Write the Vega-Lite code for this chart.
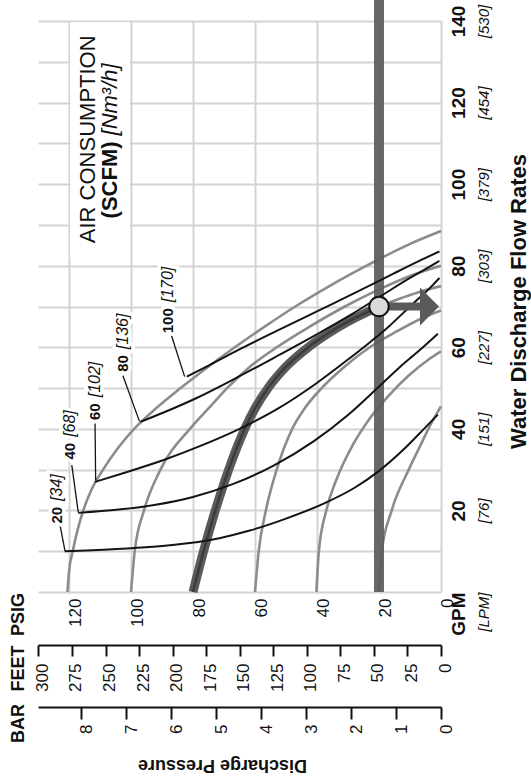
{
  "$schema": "https://vega.github.io/schema/vega-lite/v6.json",
  "width": 403,
  "height": 571,
  "autosize": {"type": "none"},
  "padding": {"left": 38, "top": 21, "right": 90, "bottom": 191},
  "background": "white",
  "config": {"view": {"stroke": null}, "font": "Liberation Sans"},
  "title": {"text": "Discharge Pressure", "orient": "bottom", "anchor": "middle", "frame": "group", "angle": 180, "baseline": "bottom", "offset": 14, "dx": 17, "fontSize": 18, "fontWeight": "bold", "font": "Liberation Sans", "color": "#111"},
  "datasets": {
    "air": [
      {"g":"p120","q":0,"p":120.5},{"g":"p120","q":5,"p":120},{"g":"p120","q":10,"p":118.8},{"g":"p120","q":15,"p":117.3},{"g":"p120","q":20,"p":115.4},{"g":"p120","q":25,"p":112.8},{"g":"p120","q":30,"p":109},{"g":"p120","q":35,"p":104.5},{"g":"p120","q":40,"p":99},{"g":"p120","q":45,"p":92},{"g":"p120","q":50,"p":84},{"g":"p120","q":55,"p":75.5},{"g":"p120","q":60,"p":66.5},{"g":"p120","q":65,"p":57},{"g":"p120","q":70,"p":47},{"g":"p120","q":75,"p":36},{"g":"p120","q":80,"p":24},{"g":"p120","q":85,"p":11},{"g":"p120","q":88.5,"p":0},
      {"g":"p100","q":0,"p":100},{"g":"p100","q":10,"p":98.8},{"g":"p100","q":20,"p":95.8},{"g":"p100","q":30,"p":90.5},{"g":"p100","q":40,"p":81},{"g":"p100","q":45,"p":75},{"g":"p100","q":50,"p":69},{"g":"p100","q":55,"p":62},{"g":"p100","q":60,"p":53},{"g":"p100","q":65,"p":42.5},{"g":"p100","q":70,"p":31},{"g":"p100","q":74,"p":20.5},{"g":"p100","q":77.5,"p":10},{"g":"p100","q":80,"p":0},
      {"g":"p80","q":0,"p":80},{"g":"p80","q":10,"p":76.6},{"g":"p80","q":20,"p":72.8},{"g":"p80","q":30,"p":68.5},{"g":"p80","q":40,"p":63.3},{"g":"p80","q":45,"p":60},{"g":"p80","q":50,"p":55.8},{"g":"p80","q":55,"p":50.3},{"g":"p80","q":60,"p":42.8},{"g":"p80","q":65,"p":33},{"g":"p80","q":70,"p":20},{"g":"p80","q":72,"p":13},{"g":"p80","q":73.7,"p":6.5},{"g":"p80","q":75,"p":0},
      {"g":"p60","q":0,"p":60},{"g":"p60","q":10,"p":58.8},{"g":"p60","q":20,"p":56.5},{"g":"p60","q":30,"p":53},{"g":"p60","q":40,"p":48},{"g":"p60","q":45,"p":44},{"g":"p60","q":50,"p":38.5},{"g":"p60","q":55,"p":31.5},{"g":"p60","q":60,"p":23},{"g":"p60","q":64,"p":14},{"g":"p60","q":67,"p":6.5},{"g":"p60","q":69,"p":0},
      {"g":"p40","q":0,"p":40.2},{"g":"p40","q":10,"p":39.4},{"g":"p40","q":20,"p":37},{"g":"p40","q":28,"p":33.5},{"g":"p40","q":36,"p":28.5},{"g":"p40","q":42,"p":23.5},{"g":"p40","q":48,"p":17},{"g":"p40","q":53,"p":10.5},{"g":"p40","q":57,"p":4},{"g":"p40","q":59,"p":0},
      {"g":"p20","q":0,"p":20},{"g":"p20","q":10,"p":19.1},{"g":"p20","q":20,"p":15.9},{"g":"p20","q":30,"p":10.4},{"g":"p20","q":36,"p":6.6},{"g":"p20","q":41.7,"p":2.9},{"g":"p20","q":45.5,"p":0}
    ],
    "scfm": [
      {"g":"s20","q":10,"p":121.4},{"g":"s20","q":10.5,"p":106},{"g":"s20","q":11.1,"p":93},{"g":"s20","q":12,"p":81},{"g":"s20","q":13.2,"p":71.5},{"g":"s20","q":15,"p":62},{"g":"s20","q":18,"p":50},{"g":"s20","q":21.8,"p":37.5},{"g":"s20","q":25.5,"p":28},{"g":"s20","q":29.4,"p":20.5},{"g":"s20","q":35,"p":12},{"g":"s20","q":40,"p":5.5},{"g":"s20","q":43.5,"p":1},
      {"g":"s40","q":19.4,"p":117},{"g":"s40","q":20.2,"p":104},{"g":"s40","q":21.4,"p":92},{"g":"s40","q":23.3,"p":80},{"g":"s40","q":26.5,"p":67},{"g":"s40","q":31,"p":54},{"g":"s40","q":37,"p":41},{"g":"s40","q":43.4,"p":30},{"g":"s40","q":50,"p":20.5},{"g":"s40","q":55,"p":13.5},{"g":"s40","q":60,"p":5.8},{"g":"s40","q":63.3,"p":1},
      {"g":"s60","q":27,"p":111.6},{"g":"s60","q":29.5,"p":101},{"g":"s60","q":32.5,"p":89},{"g":"s60","q":36,"p":77},{"g":"s60","q":40,"p":65},{"g":"s60","q":45,"p":52.5},{"g":"s60","q":51,"p":40.5},{"g":"s60","q":57,"p":30},{"g":"s60","q":61.5,"p":22.5},{"g":"s60","q":65,"p":17},{"g":"s60","q":70,"p":10},{"g":"s60","q":75,"p":3},{"g":"s60","q":77,"p":0.5},
      {"g":"s80","q":41.7,"p":97},{"g":"s80","q":44,"p":89.5},{"g":"s80","q":47.5,"p":79},{"g":"s80","q":52.5,"p":66},{"g":"s80","q":58,"p":52.5},{"g":"s80","q":63,"p":40.5},{"g":"s80","q":68,"p":29},{"g":"s80","q":73,"p":18.5},{"g":"s80","q":77,"p":10},{"g":"s80","q":80.5,"p":2},{"g":"s80","q":81.2,"p":0.5},
      {"g":"s100","q":52.8,"p":82},{"g":"s100","q":55.5,"p":75},{"g":"s100","q":59.3,"p":65.5},{"g":"s100","q":64,"p":53},{"g":"s100","q":69,"p":39.5},{"g":"s100","q":74,"p":26},{"g":"s100","q":78,"p":15.5},{"g":"s100","q":81,"p":7.5},{"g":"s100","q":83.5,"p":0.5}
    ],
    "leaders": [
      {"g":"l20","q":16.4,"p":122.9},{"g":"l20","q":10.1,"p":121.3},
      {"g":"l40","q":31.1,"p":119.1},{"g":"l40","q":19.5,"p":117},
      {"g":"l60","q":41.3,"p":111.6},{"g":"l60","q":27.4,"p":111.4},
      {"g":"l80","q":53,"p":102.6},{"g":"l80","q":41.9,"p":97.3},
      {"g":"l100","q":63,"p":87},{"g":"l100","q":52.8,"p":82.7}
    ],
    "labels": [
      {"num":"20","unit":"[34]","p":124,"q":21.6},
      {"num":"40","unit":"[68]","p":119.7,"q":37.3},
      {"num":"60","unit":"[102]","p":111.6,"q":47},
      {"num":"80","unit":"[136]","p":102.6,"q":58.8},
      {"num":"100","unit":"[170]","p":88.1,"q":70.3}
    ]
  },
  "layer": [
    {
      "layer": [
        {
          "data": {"values": [{"p1":119.6,"p2":100.4,"q1":81.5,"q2":139.7}]},
          "mark": {"type": "rect", "fill": "white"},
          "encoding": {
            "x": {"field": "p1", "type": "quantitative", "scale": {"domain": [0, 130], "reverse": true, "nice": false, "zero": false},
              "axis": {"orient": "bottom", "values": [0,10,20,30,40,50,60,70,80,90,100,110,120,130], "grid": true, "gridColor": "#d3d3d3", "gridWidth": 2, "domain": false, "ticks": false, "tickSize": 0,
                "labelExpr": "datum.value % 20 == 0 ? datum.label : ''", "labelAngle": 270, "labelAlign": "right", "labelBaseline": "middle", "labelPadding": 6, "labelOffset": 6, "labelFontSize": 17, "labelColor": "#111", "labelOverlap": false, "labelFlush": false,
                "title": "PSIG", "titleFontSize": 18, "titleFontWeight": "bold", "titleColor": "#111", "titleAngle": 270, "titleX": -20, "titleY": 22, "titleAlign": "center", "titleBaseline": "middle"}},
            "x2": {"field": "p2"},
            "y": {"field": "q1", "type": "quantitative", "scale": {"domain": [0, 140], "nice": false, "zero": false},
              "axis": {"orient": "right", "values": [0,10,20,30,40,50,60,70,80,90,100,110,120,130,140], "grid": true, "gridColor": "#d3d3d3", "gridWidth": 2, "domain": false, "ticks": false, "tickSize": 0,
                "labelExpr": "datum.value == 0 ? 'GPM' : (datum.value % 20 == 0 ? datum.label : '')", "labelAngle": 270,
                "labelAlign": {"condition": {"test": "datum.value == 0", "value": "right"}, "value": "center"},
                "labelBaseline": "middle", "labelPadding": 17, "labelFontSize": 19, "labelFontWeight": "bold", "labelColor": "#111", "labelOverlap": false, "labelFlush": false,
                "title": "Water Discharge Flow Rates", "titleFontSize": 22, "titleFontWeight": "bold", "titleColor": "#111", "titleAngle": 270, "titleX": 77, "titleY": 280, "titleAlign": "center", "titleBaseline": "middle"}},
            "y2": {"field": "q2"}
          }
        },
        {
          "data": {"name": "air"},
          "mark": {"type": "line", "color": "#8c8c8c", "strokeWidth": 2.6, "interpolate": "monotone"},
          "encoding": {
            "x": {"field": "p", "type": "quantitative"},
            "y": {"field": "q", "type": "quantitative"},
            "detail": {"field": "g"},
            "order": {"field": "q", "type": "quantitative"}
          }
        },
        {
          "data": {"name": "air"},
          "transform": [{"filter": "datum.g == 'p80' && datum.q <= 70"}],
          "mark": {"type": "line", "color": "#5a5a5a", "strokeWidth": 9, "interpolate": "monotone"},
          "encoding": {
            "x": {"field": "p", "type": "quantitative"},
            "y": {"field": "q", "type": "quantitative"},
            "order": {"field": "q", "type": "quantitative"}
          }
        },
        {
          "data": {"name": "air"},
          "transform": [{"filter": "datum.g == 'p80' && datum.q <= 70"}],
          "mark": {"type": "line", "color": "#3c3c3c", "strokeWidth": 2.5, "interpolate": "monotone"},
          "encoding": {
            "x": {"field": "p", "type": "quantitative"},
            "y": {"field": "q", "type": "quantitative"},
            "order": {"field": "q", "type": "quantitative"}
          }
        },
        {
          "data": {"values": [{"p":20,"q1":0,"q2":145.5}]},
          "mark": {"type": "rule", "color": "#5c5c5c", "strokeWidth": 10, "opacity": 0.93},
          "encoding": {
            "x": {"field": "p", "type": "quantitative"},
            "y": {"field": "q1", "type": "quantitative"},
            "y2": {"field": "q2"}
          }
        },
        {
          "data": {"name": "scfm"},
          "mark": {"type": "line", "color": "#141414", "strokeWidth": 2, "interpolate": "monotone"},
          "encoding": {
            "x": {"field": "p", "type": "quantitative"},
            "y": {"field": "q", "type": "quantitative"},
            "detail": {"field": "g"},
            "order": {"field": "q", "type": "quantitative"}
          }
        },
        {
          "data": {"name": "leaders"},
          "mark": {"type": "line", "color": "#141414", "strokeWidth": 1.3},
          "encoding": {
            "x": {"field": "p", "type": "quantitative"},
            "y": {"field": "q", "type": "quantitative"},
            "detail": {"field": "g"},
            "order": {"field": "q", "type": "quantitative"}
          }
        },
        {
          "data": {"values": [{"p1":20,"p2":6.5,"q":70}]},
          "mark": {"type": "rule", "color": "#5a5a5a", "strokeWidth": 8},
          "encoding": {
            "x": {"field": "p1", "type": "quantitative"},
            "x2": {"field": "p2"},
            "y": {"field": "q", "type": "quantitative"}
          }
        },
        {
          "data": {"values": [{"p":3.7,"q":70}]},
          "mark": {"type": "point", "shape": "M-0.5,-1L0.5,0L-0.5,1Z", "size": 1444, "filled": true, "color": "#5a5a5a", "opacity": 1},
          "encoding": {
            "x": {"field": "p", "type": "quantitative"},
            "y": {"field": "q", "type": "quantitative"}
          }
        },
        {
          "data": {"values": [{"p":20,"q":70}]},
          "mark": {"type": "point", "shape": "circle", "size": 380, "filled": true, "fill": "#d9d9d9", "stroke": "#111", "strokeWidth": 2, "opacity": 1},
          "encoding": {
            "x": {"field": "p", "type": "quantitative"},
            "y": {"field": "q", "type": "quantitative"}
          }
        },
        {
          "data": {"name": "labels"},
          "mark": {"type": "text", "angle": 270, "align": "right", "baseline": "middle", "dx": -3, "fontSize": 15, "fontWeight": "bold", "fill": "white", "stroke": "white", "strokeWidth": 7},
          "encoding": {"x": {"field": "p", "type": "quantitative"}, "y": {"field": "q", "type": "quantitative"}, "text": {"field": "num"}}
        },
        {
          "data": {"name": "labels"},
          "mark": {"type": "text", "angle": 270, "align": "left", "baseline": "middle", "dx": 3, "fontSize": 16, "fontStyle": "italic", "fill": "white", "stroke": "white", "strokeWidth": 7},
          "encoding": {"x": {"field": "p", "type": "quantitative"}, "y": {"field": "q", "type": "quantitative"}, "text": {"field": "unit"}}
        },
        {
          "data": {"name": "labels"},
          "mark": {"type": "text", "angle": 270, "align": "right", "baseline": "middle", "dx": -3, "fontSize": 15, "fontWeight": "bold", "fill": "#111"},
          "encoding": {"x": {"field": "p", "type": "quantitative"}, "y": {"field": "q", "type": "quantitative"}, "text": {"field": "num"}}
        },
        {
          "data": {"name": "labels"},
          "mark": {"type": "text", "angle": 270, "align": "left", "baseline": "middle", "dx": 3, "fontSize": 16, "fontStyle": "italic", "fill": "#111"},
          "encoding": {"x": {"field": "p", "type": "quantitative"}, "y": {"field": "q", "type": "quantitative"}, "text": {"field": "unit"}}
        },
        {
          "data": {"values": [{"t":"AIR CONSUMPTION","p":113.9,"q":111}]},
          "mark": {"type": "text", "angle": 270, "align": "center", "baseline": "middle", "fontSize": 22, "fill": "#111"},
          "encoding": {"x": {"field": "p", "type": "quantitative"}, "y": {"field": "q", "type": "quantitative"}, "text": {"field": "t"}}
        },
        {
          "data": {"values": [{"t":"(SCFM)","p":106.8,"q":111.2}]},
          "mark": {"type": "text", "angle": 270, "align": "right", "baseline": "middle", "dx": -3, "fontSize": 22, "fontWeight": "bold", "fill": "#111"},
          "encoding": {"x": {"field": "p", "type": "quantitative"}, "y": {"field": "q", "type": "quantitative"}, "text": {"field": "t"}}
        },
        {
          "data": {"values": [{"t":"[Nm³/h]","p":106.8,"q":111.2}]},
          "mark": {"type": "text", "angle": 270, "align": "left", "baseline": "middle", "dx": 3, "fontSize": 22, "fontStyle": "italic", "fill": "#111"},
          "encoding": {"x": {"field": "p", "type": "quantitative"}, "y": {"field": "q", "type": "quantitative"}, "text": {"field": "t"}}
        }
      ]
    },
    {
      "data": {"values": [{"ft":0,"q":0},{"ft":300,"q":140}]},
      "mark": {"type": "point", "opacity": 0},
      "encoding": {
        "x": {"field": "ft", "type": "quantitative", "scale": {"domain": [0, 300.3], "reverse": true, "nice": false, "zero": false},
          "axis": {"orient": "bottom", "offset": 53, "values": [0,25,50,75,100,125,150,175,200,225,250,275,300], "grid": false, "domain": true, "domainColor": "#111", "domainWidth": 2, "ticks": true, "tickColor": "#111", "tickWidth": 2, "tickSize": 11,
            "labelAngle": 270, "labelAlign": "right", "labelBaseline": "middle", "labelPadding": 7, "labelOffset": 4, "labelFontSize": 17, "labelColor": "#111", "labelOverlap": false, "labelFlush": false,
            "title": "FEET", "titleFontSize": 18, "titleFontWeight": "bold", "titleColor": "#111", "titleAngle": 270, "titleX": -20, "titleY": 23, "titleAlign": "center", "titleBaseline": "middle"}},
        "y": {"field": "q", "type": "quantitative", "scale": {"domain": [0, 140], "nice": false, "zero": false},
          "axis": {"orient": "right", "values": [0,20,40,60,80,100,120,140], "grid": false, "domain": false, "ticks": false, "tickSize": 0,
            "labelExpr": "datum.value == 0 ? '[LPM]' : '[' + format(datum.value * 3.78541, '.0f') + ']'", "labelAngle": 270,
            "labelAlign": {"condition": {"test": "datum.value == 0", "value": "right"}, "value": "center"},
            "labelBaseline": "middle", "labelPadding": 42, "labelFontSize": 15, "labelFontStyle": "italic", "labelColor": "#111", "labelOverlap": false, "labelFlush": false, "title": null}}
      }
    },
    {
      "data": {"values": [{"bar":0},{"bar":8}]},
      "mark": {"type": "point", "opacity": 0},
      "encoding": {
        "x": {"field": "bar", "type": "quantitative", "scale": {"domain": [0, 8.963], "reverse": true, "nice": false, "zero": false},
          "axis": {"orient": "bottom", "offset": 115, "values": [0,1,2,3,4,5,6,7,8], "grid": false, "domain": true, "domainColor": "#111", "domainWidth": 2, "ticks": true, "tickColor": "#111", "tickWidth": 2, "tickSize": 12,
            "labelAngle": 270, "labelAlign": "right", "labelBaseline": "middle", "labelPadding": 5, "labelOffset": 5, "labelFontSize": 17, "labelColor": "#111", "labelOverlap": false, "labelFlush": false,
            "title": "BAR", "titleFontSize": 18, "titleFontWeight": "bold", "titleColor": "#111", "titleAngle": 270, "titleX": -20, "titleY": 16, "titleAlign": "center", "titleBaseline": "middle"}}
      }
    }
  ],
  "resolve": {"scale": {"x": "independent"}, "axis": {"y": "independent"}}
}
